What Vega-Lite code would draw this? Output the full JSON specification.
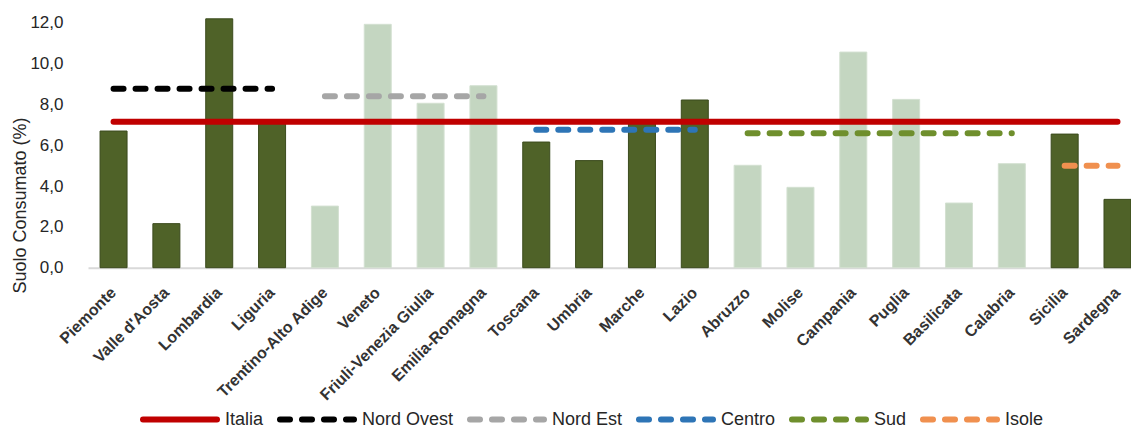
{
  "$schema": "https://vega.github.io/schema/vega-lite/v6.json",
  "width": 1043,
  "height": 265.2,
  "autosize": {"type": "none"},
  "padding": {"left": 88, "top": 2.5, "right": 0, "bottom": 161.3},
  "background": "white",
  "config": {"view": {"stroke": null}, "font": "Liberation Sans"},
  "datasets": {
    "regioni": [
      {"regione": "Piemonte", "ripartizione": "Nord Ovest", "valore": 6.70},
      {"regione": "Valle d'Aosta", "ripartizione": "Nord Ovest", "valore": 2.16},
      {"regione": "Lombardia", "ripartizione": "Nord Ovest", "valore": 12.2},
      {"regione": "Liguria", "ripartizione": "Nord Ovest", "valore": 7.1},
      {"regione": "Trentino-Alto Adige", "ripartizione": "Nord Est", "valore": 3.02},
      {"regione": "Veneto", "ripartizione": "Nord Est", "valore": 11.93},
      {"regione": "Friuli-Venezia Giulia", "ripartizione": "Nord Est", "valore": 8.06},
      {"regione": "Emilia-Romagna", "ripartizione": "Nord Est", "valore": 8.92},
      {"regione": "Toscana", "ripartizione": "Centro", "valore": 6.16},
      {"regione": "Umbria", "ripartizione": "Centro", "valore": 5.25},
      {"regione": "Marche", "ripartizione": "Centro", "valore": 7.1},
      {"regione": "Lazio", "ripartizione": "Centro", "valore": 8.22},
      {"regione": "Abruzzo", "ripartizione": "Sud", "valore": 5.02},
      {"regione": "Molise", "ripartizione": "Sud", "valore": 3.94},
      {"regione": "Campania", "ripartizione": "Sud", "valore": 10.57},
      {"regione": "Puglia", "ripartizione": "Sud", "valore": 8.25},
      {"regione": "Basilicata", "ripartizione": "Sud", "valore": 3.17},
      {"regione": "Calabria", "ripartizione": "Sud", "valore": 5.10},
      {"regione": "Sicilia", "ripartizione": "Isole", "valore": 6.55},
      {"regione": "Sardegna", "ripartizione": "Isole", "valore": 3.35}
    ],
    "medie": [
      {"serie": "Italia", "regione": "Piemonte", "valore": 7.16},
      {"serie": "Italia", "regione": "Sardegna", "valore": 7.16},
      {"serie": "Nord Ovest", "regione": "Piemonte", "valore": 8.77},
      {"serie": "Nord Ovest", "regione": "Liguria", "valore": 8.77},
      {"serie": "Nord Est", "regione": "Trentino-Alto Adige", "valore": 8.40},
      {"serie": "Nord Est", "regione": "Emilia-Romagna", "valore": 8.40},
      {"serie": "Centro", "regione": "Toscana", "valore": 6.76},
      {"serie": "Centro", "regione": "Lazio", "valore": 6.76},
      {"serie": "Sud", "regione": "Abruzzo", "valore": 6.59},
      {"serie": "Sud", "regione": "Calabria", "valore": 6.59},
      {"serie": "Isole", "regione": "Sicilia", "valore": 5.0},
      {"serie": "Isole", "regione": "Sardegna", "valore": 5.0}
    ]
  },
  "layer": [
    {
      "data": {"name": "regioni"},
      "mark": {"type": "bar", "strokeWidth": 1},
      "encoding": {
        "x": {
          "field": "regione",
          "type": "nominal",
          "sort": null,
          "scale": {
            "domain": ["Piemonte", "Valle d'Aosta", "Lombardia", "Liguria", "Trentino-Alto Adige", "Veneto", "Friuli-Venezia Giulia", "Emilia-Romagna", "Toscana", "Umbria", "Marche", "Lazio", "Abruzzo", "Molise", "Campania", "Puglia", "Basilicata", "Calabria", "Sicilia", "Sardegna"],
            "paddingInner": 0.489,
            "paddingOuter": 0.114,
            "align": 1
          },
          "axis": {
            "title": null,
            "labelAngle": -45,
            "labelAlign": "right",
            "labelBaseline": "middle",
            "labelFontSize": 16,
            "labelFontWeight": "bold",
            "labelColor": "#333333",
            "labelLimit": 300,
            "ticks": false,
            "tickSize": 0,
            "labelPadding": 22,
            "domainColor": "#d9d9d9",
            "domainWidth": 2,
            "grid": false
          }
        },
        "y": {
          "field": "valore",
          "type": "quantitative",
          "scale": {"domain": [0, 13], "nice": false},
          "axis": {
            "title": "Suolo Consumato (%)",
            "values": [0, 2, 4, 6, 8, 10, 12],
            "labelExpr": "replace(format(datum.value, '.1f'), '.', ',')",
            "grid": false,
            "domain": false,
            "ticks": false,
            "tickSize": 0,
            "labelPadding": 25,
            "labelFontSize": 17,
            "labelColor": "#262626",
            "titleFontSize": 18,
            "titleFontWeight": "normal",
            "titleColor": "#262626",
            "titleX": -63,
            "titleY": 202.5,
            "titleAngle": -90,
            "titleAlign": "center",
            "titleBaseline": "alphabetic"
          }
        },
        "fill": {
          "field": "ripartizione",
          "type": "nominal",
          "scale": {
            "domain": ["Nord Ovest", "Nord Est", "Centro", "Sud", "Isole"],
            "range": ["#4f6228", "#c4d6c1", "#4f6228", "#c4d6c1", "#4f6228"]
          },
          "legend": null
        },
        "stroke": {
          "condition": {"test": "datum.ripartizione === 'Nord Est' || datum.ripartizione === 'Sud'", "value": "#d3e0d1"},
          "value": "#3b4b1d"
        }
      }
    },
    {
      "data": {"name": "medie"},
      "mark": {"type": "line", "strokeWidth": 6, "strokeCap": "round"},
      "encoding": {
        "x": {"field": "regione", "type": "nominal", "sort": null},
        "y": {"field": "valore", "type": "quantitative"},
        "stroke": {
          "field": "serie",
          "type": "nominal",
          "scale": {
            "domain": ["Italia", "Nord Ovest", "Nord Est", "Centro", "Sud", "Isole"],
            "range": ["#c00000", "#000000", "#a6a6a6", "#2e75b6", "#6f8f2d", "#f0904f"]
          },
          "legend": {
            "orient": "none",
            "legendX": 52,
            "legendY": 377,
            "direction": "horizontal",
            "columns": 6,
            "title": null,
            "symbolType": "stroke",
            "symbolSize": 5476,
            "symbolStrokeWidth": 6,
            "labelFontSize": 18,
            "labelColor": "#262626",
            "labelFont": "Liberation Sans",
            "labelOffset": 5,
            "columnPadding": 4,
            "labelLimit": 200,
            "padding": 0,
            "encode": {"symbols": {"update": {"strokeCap": {"value": "round"}}}}
          }
        },
        "strokeDash": {
          "field": "serie",
          "type": "nominal",
          "scale": {
            "domain": ["Italia", "Nord Ovest", "Nord Est", "Centro", "Sud", "Isole"],
            "range": [[1, 0], [10, 12], [10, 12], [10, 12], [10, 12], [10, 12]]
          },
          "legend": {
            "orient": "none",
            "legendX": 52,
            "legendY": 377,
            "direction": "horizontal",
            "columns": 6,
            "title": null,
            "symbolType": "stroke",
            "symbolSize": 5476,
            "symbolStrokeWidth": 6,
            "labelFontSize": 18,
            "labelColor": "#262626",
            "labelFont": "Liberation Sans",
            "labelOffset": 5,
            "columnPadding": 4,
            "labelLimit": 200,
            "padding": 0,
            "encode": {"symbols": {"update": {"strokeCap": {"value": "round"}}}}
          }
        }
      }
    }
  ]
}
